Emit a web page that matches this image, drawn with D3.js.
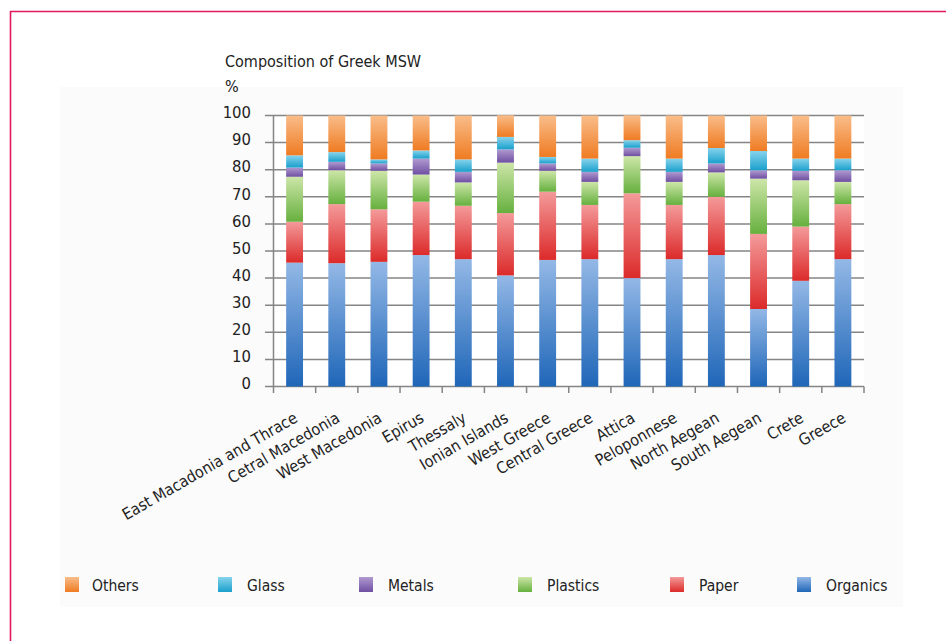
<!DOCTYPE html>
<html><head><meta charset="utf-8">
<script src="https://cdn.jsdelivr.net/npm/d3@7"></script>
<style>
html,body{margin:0;padding:0;background:#fff;}
svg{display:block;}
text{font-family:"Liberation Sans Narrow","DejaVu Sans Condensed",Lato,sans-serif;fill:#222;}
</style></head>
<body>
<svg id="chart" width="946" height="641"></svg>
<script>
const categories = ["East Macadonia and Thrace","Cetral Macedonia","West Macedonia","Epirus","Thessaly","Ionian Islands","West Greece","Central Greece","Attica","Peloponnese","North Aegean","South Aegean","Crete","Greece"];
const organics = [45.7,45.5,46.0,48.5,47.0,41.0,46.7,47.0,40.0,47.0,48.5,28.6,39.0,47.0];
const paper    = [15.1,21.8,19.4,19.7,19.7,23.0,25.2,20.0,31.3,20.0,21.5,27.7,20.0,20.3];
const plastics = [16.6,12.5,14.2,10.0,8.6,18.6,7.7,8.5,13.7,8.5,9.0,20.4,17.1,8.2];
const metals   = [3.4,3.1,2.7,5.9,3.9,4.9,2.7,3.7,3.1,3.7,3.3,3.1,3.5,4.3];
const glass    = [4.5,3.6,1.5,3.0,4.6,4.6,2.4,4.9,2.8,4.9,5.7,7.1,4.5,4.3];
const others   = [14.7,13.5,16.2,12.9,16.2,8.0,15.3,15.9,9.2,15.9,12.0,13.1,15.9,15.9];
const seriesNames = ["Organics","Paper","Plastics","Metals","Glass","Others"];
const legendOrder = ["Others","Glass","Metals","Plastics","Paper","Organics"];
const yTicks = [0,10,20,30,40,50,60,70,80,90,100];
const title = "Composition of Greek MSW";
const unit = "%";

const seriesValues = {Organics:organics,Paper:paper,Plastics:plastics,Metals:metals,Glass:glass,Others:others};
const colors = {
  Organics:["#93b8e6","#1f66b8"],
  Paper:["#f49a9a","#dc2a2a"],
  Plastics:["#cde6a8","#66b03e"],
  Metals:["#b09ad0","#6f4fa2"],
  Glass:["#86d3ec","#1aa0cc"],
  Others:["#f9bd8a","#ef7b22"]
};

const svg = d3.select("#chart");
const defs = svg.append("defs");
seriesNames.forEach(s=>{
  const g = defs.append("linearGradient").attr("id","grad-"+s).attr("x1",0).attr("y1",0).attr("x2",0).attr("y2",1);
  g.append("stop").attr("offset","0%").attr("stop-color",colors[s][0]);
  g.append("stop").attr("offset","100%").attr("stop-color",colors[s][1]);
});

// frame
svg.append("rect").attr("x",60).attr("y",87).attr("width",843).attr("height",520).attr("fill","#fbfbfb");
svg.append("line").attr("x1",10).attr("x2",946).attr("y1",11.5).attr("y2",11.5).attr("stroke","#e0195a").attr("stroke-width",1.6);
svg.append("line").attr("x1",10.5).attr("x2",10.5).attr("y1",11).attr("y2",641).attr("stroke","#e0195a").attr("stroke-width",1.6);

const x = d3.scaleBand().domain(categories).range([273.5,864]).paddingInner(0.6).paddingOuter(0.3);
const y = d3.scaleLinear().domain([0,100]).range([386.5,115.5]);

// plot background
svg.append("rect").attr("x",273.5).attr("y",115.5).attr("width",864-273.5).attr("height",271).attr("fill","#fff");

// gridlines
svg.append("g").selectAll("line").data(yTicks).join("line")
  .attr("x1",265).attr("x2",864).attr("y1",d=>y(d)).attr("y2",d=>y(d))
  .attr("stroke","#858585").attr("stroke-width",1.5);

// y labels
svg.append("g").selectAll("text").data(yTicks).join("text")
  .attr("x",251).attr("y",d=>y(d)-3).attr("dy","0.35em").attr("text-anchor","end")
  .attr("font-size",16.5).text(d=>d);

// stacked data
const table = categories.map((c,i)=>{const o={category:c}; seriesNames.forEach(s=>o[s]=seriesValues[s][i]); return o;});
const stack = d3.stack().keys(seriesNames)(table);

svg.append("g").selectAll("g").data(stack).join("g")
  .attr("fill",d=>"url(#grad-"+d.key+")")
  .selectAll("rect").data(d=>d).join("rect")
  .attr("x",d=>x(d.data.category)).attr("width",x.bandwidth())
  .attr("y",d=>y(d[1])).attr("height",d=>y(d[0])-y(d[1]));

// axes lines
svg.append("line").attr("x1",273.5).attr("x2",273.5).attr("y1",115.5).attr("y2",386.5).attr("stroke","#858585").attr("stroke-width",1.5);
const bounds = categories.map((c,i)=>x(c)-x.step()*0.3).concat([864]);
svg.append("g").selectAll("line").data(bounds).join("line")
  .attr("x1",d=>d).attr("x2",d=>d).attr("y1",386.5).attr("y2",393)
  .attr("stroke","#858585").attr("stroke-width",1.5);

// x labels
svg.append("g").selectAll("text").data(categories).join("text")
  .attr("text-anchor","end").attr("font-size",16)
  .attr("transform",d=>`translate(${x(d)+x.bandwidth()/2+4},${421}) rotate(-30)`)
  .text(d=>d);

// title
svg.append("text").attr("x",225).attr("y",67).attr("font-size",16).text(title);
svg.append("text").attr("x",225).attr("y",92).attr("font-size",16).text(unit);

// legend
const legendX = {Others:65,Glass:218,Metals:359,Plastics:518,Paper:670,Organics:797};
const lg = svg.append("g").selectAll("g").data(legendOrder).join("g")
  .attr("transform",d=>`translate(${legendX[d]},577)`);
lg.append("rect").attr("width",14).attr("height",15).attr("fill",d=>"url(#grad-"+d+")");
lg.append("text").attr("x",d=> d==="Others"?27:29).attr("y",14).attr("font-size",15.5).text(d=>d);
</script>
</body></html>
